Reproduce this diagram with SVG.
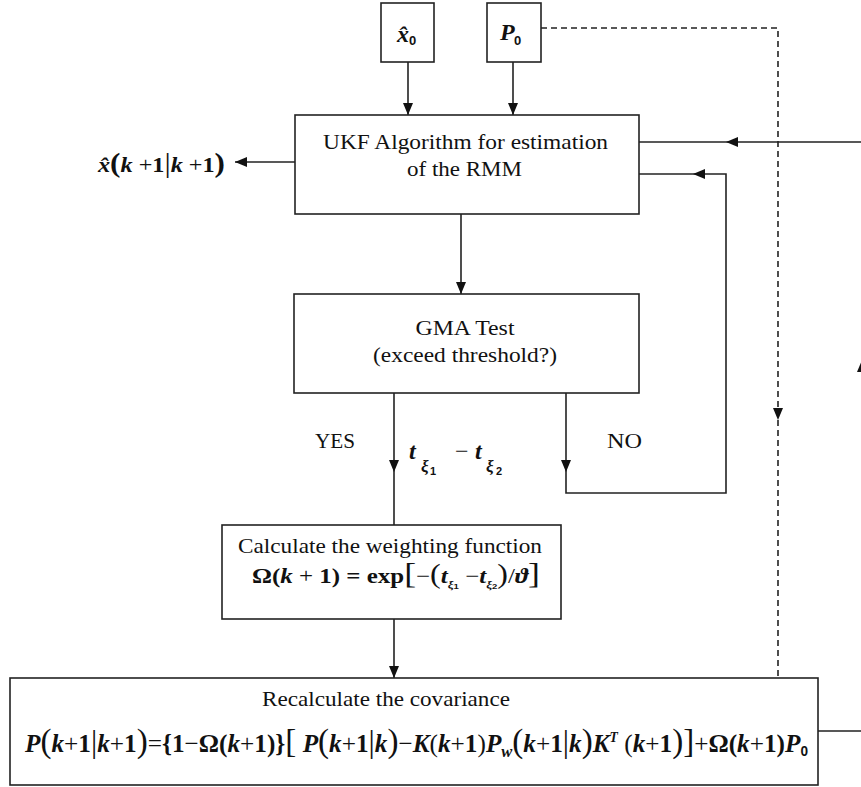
<svg xmlns="http://www.w3.org/2000/svg" width="861" height="787" viewBox="0 0 861 787">
<defs>
<marker id="ah" viewBox="0 0 12 10" refX="12" refY="5" markerWidth="12" markerHeight="10" markerUnits="userSpaceOnUse" orient="auto"><path d="M0,0 L12,5 L0,10 z" fill="#111"/></marker>
<style>
.box{fill:#fff;stroke:#222;stroke-width:1.6}
.c{fill:none;stroke:#222;stroke-width:1.6}
.d{stroke-dasharray:6 4}
.t{font-family:"Liberation Serif","Times New Roman",serif;font-size:22px;fill:#111}
.m{font-family:"Liberation Serif","Times New Roman",serif;font-weight:bold;fill:#111}
.i{font-style:italic}
.s{font-family:"Liberation Sans",Arial,sans-serif;font-weight:bold;font-style:normal}
.n{font-weight:normal}
</style>
</defs>
<rect width="861" height="787" fill="#fff"/>

<g id="connectors">
<path class="c" d="M408,62 V115" marker-end="url(#ah)"/>
<path class="c" d="M513,62 V115" marker-end="url(#ah)"/>
<path class="c" d="M295,162 H235" marker-end="url(#ah)"/>
<path class="c" d="M461,214 V294" marker-end="url(#ah)"/>
<path class="c" d="M394,393 V472" marker-end="url(#ah)"/>
<path class="c" d="M394,472 V525"/>
<path class="c" d="M566,393 V472" marker-end="url(#ah)"/>
<path class="c" d="M566,472 V493 H726 V174 H693" marker-end="url(#ah)"/>
<path class="c" d="M693,174 H639"/>
<path class="c" d="M394,619 V678" marker-end="url(#ah)"/>
<path class="c" d="M818,731 H862 V360" marker-end="url(#ah)"/>
<path class="c" d="M862,360 V142 H726" marker-end="url(#ah)"/>
<path class="c" d="M726,142 H639"/>
<path class="c d" d="M541,28 H778 V420" marker-end="url(#ah)"/>
<path class="c d" d="M778,420 V678"/>
</g>

<g id="n-x0">
<rect class="box" x="381" y="3" width="53" height="59"/>
<text class="m i" x="397" y="42" font-size="24">x̂</text>
<text class="m s" x="409" y="45" font-size="13">0</text>
</g>

<g id="n-p0">
<rect class="box" x="487" y="3" width="54" height="59"/>
<text class="m i" x="500" y="40" font-size="24">P</text>
<text class="m s" x="514" y="45" font-size="13">0</text>
</g>

<g id="n-ukf">
<rect class="box" x="295" y="115" width="344" height="99"/>
<text class="t" x="465.5" y="149" text-anchor="middle" textLength="285" lengthAdjust="spacingAndGlyphs">UKF Algorithm for estimation</text>
<text class="t" x="464.5" y="176" text-anchor="middle" textLength="115" lengthAdjust="spacingAndGlyphs">of the RMM</text>
</g>

<g id="n-out">
<text class="m" x="98" y="172" font-size="21" textLength="127" lengthAdjust="spacingAndGlyphs"><tspan class="i">x̂</tspan><tspan font-size="27">(</tspan><tspan class="i">k</tspan> <tspan class="n">+</tspan>1<tspan class="n" font-size="27">|</tspan><tspan class="i">k</tspan> <tspan class="n">+</tspan>1<tspan font-size="27">)</tspan></text>
</g>

<g id="n-gma">
<rect class="box" x="294" y="294" width="345" height="99"/>
<text class="t" x="465" y="335" text-anchor="middle" textLength="99" lengthAdjust="spacingAndGlyphs">GMA Test</text>
<text class="t" x="465" y="362" text-anchor="middle" textLength="184" lengthAdjust="spacingAndGlyphs">(exceed threshold?)</text>
</g>

<g id="edge-labels">
<text class="t" x="315" y="448" textLength="40" lengthAdjust="spacingAndGlyphs">YES</text>
<text class="t" x="607" y="448" textLength="35" lengthAdjust="spacingAndGlyphs">NO</text>
<text class="m i" font-size="24"><tspan x="409" y="459">t</tspan><tspan x="421" y="472" font-size="17">ξ</tspan><tspan x="430" y="475" font-size="11" class="s">1</tspan><tspan x="455" y="459" class="n" font-style="normal">−</tspan><tspan x="475" y="459">t</tspan><tspan x="486" y="472" font-size="17">ξ</tspan><tspan x="496" y="475" font-size="11" class="s">2</tspan></text>
</g>

<g id="n-weight">
<rect class="box" x="222" y="525" width="339" height="94"/>
<text class="t" x="390" y="553" text-anchor="middle" textLength="304" lengthAdjust="spacingAndGlyphs">Calculate the weighting function</text>
<text class="m" x="252" y="583" font-size="21" textLength="288" lengthAdjust="spacingAndGlyphs">Ω(<tspan class="i">k</tspan> <tspan class="n">+</tspan> 1) = exp<tspan font-size="30" class="n">[</tspan><tspan class="n">−</tspan><tspan font-size="27" class="n">(</tspan><tspan class="i">t</tspan><tspan font-size="11" dy="5" class="i">ξ</tspan><tspan font-size="8" dy="1" class="s">1</tspan><tspan class="n" dy="-6"> −</tspan><tspan class="i">t</tspan><tspan font-size="11" dy="5" class="i">ξ</tspan><tspan font-size="8" dy="1" class="s">2</tspan><tspan font-size="27" class="n" dy="-6">)</tspan><tspan class="n">/</tspan><tspan class="i">ϑ</tspan><tspan font-size="30" class="n">]</tspan></text>
</g>

<g id="n-cov">
<rect class="box" x="10" y="678" width="808" height="107"/>
<text class="t" x="386" y="706" text-anchor="middle" textLength="248" lengthAdjust="spacingAndGlyphs">Recalculate the covariance</text>
<text class="m" x="25" y="752" font-size="26" textLength="783" lengthAdjust="spacingAndGlyphs"><tspan class="i">P</tspan><tspan font-size="34" class="n">(</tspan><tspan class="i">k</tspan><tspan class="n">+</tspan>1<tspan font-size="32" class="n">|</tspan><tspan class="i">k</tspan><tspan class="n">+</tspan>1<tspan font-size="34" class="n">)</tspan><tspan class="n">=</tspan>{1<tspan class="n">−</tspan>Ω(<tspan class="i">k</tspan><tspan class="n">+</tspan>1)}<tspan font-size="34" class="n">[</tspan> <tspan class="i">P</tspan><tspan font-size="34" class="n">(</tspan><tspan class="i">k</tspan><tspan class="n">+</tspan>1<tspan font-size="32" class="n">|</tspan><tspan class="i">k</tspan><tspan font-size="34" class="n">)</tspan><tspan class="n">−</tspan><tspan class="i">K</tspan><tspan class="n">(</tspan><tspan class="i">k</tspan><tspan class="n">+</tspan>1<tspan class="n">)</tspan><tspan class="i">P</tspan><tspan class="i" font-size="17" dy="5">w</tspan><tspan font-size="34" class="n" dy="-5">(</tspan><tspan class="i">k</tspan><tspan class="n">+</tspan>1<tspan font-size="32" class="n">|</tspan><tspan class="i">k</tspan><tspan font-size="34" class="n">)</tspan><tspan class="i">K</tspan><tspan class="i" font-size="14" dy="-10">T</tspan><tspan class="n" dy="10"> (</tspan><tspan class="i">k</tspan><tspan class="n">+</tspan>1<tspan font-size="34" class="n">)</tspan><tspan font-size="34" class="n">]</tspan><tspan class="n">+</tspan>Ω(<tspan class="i">k</tspan><tspan class="n">+</tspan>1)<tspan class="i">P</tspan><tspan class="s" font-size="14" dy="4">0</tspan></text>
</g>
</svg>
